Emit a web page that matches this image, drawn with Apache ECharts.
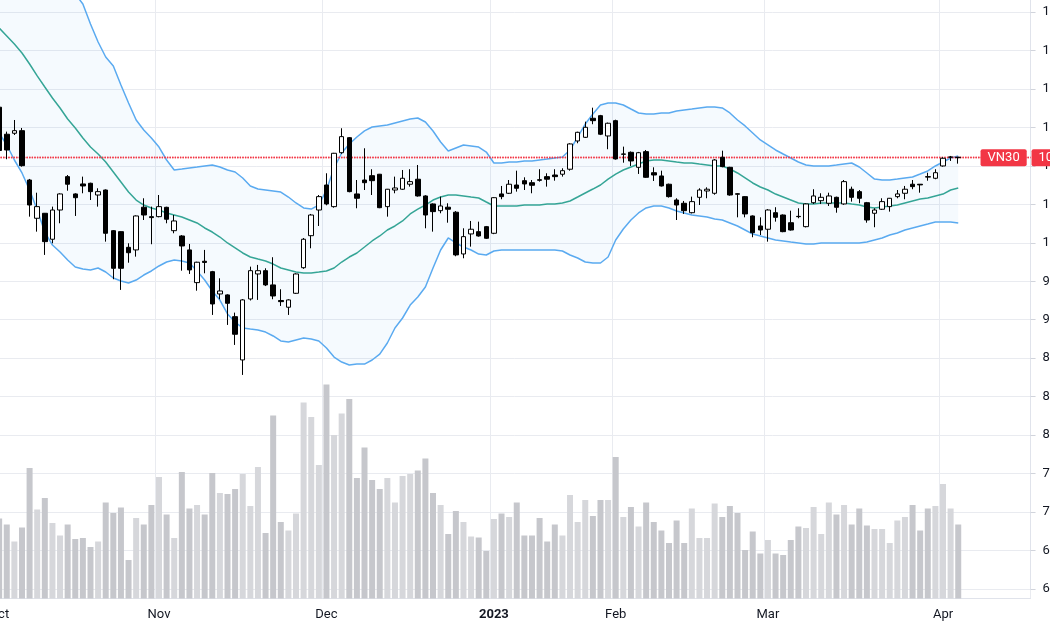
<!DOCTYPE html>
<html>
<head>
<meta charset="utf-8">
<title>VN30</title>
<script src="https://cdn.jsdelivr.net/npm/echarts@6/dist/echarts.min.js"></script>
<style>
  html, body { margin: 0; padding: 0; background: #ffffff; }
  #chart { width: 1050px; height: 630px; }
</style>
</head>
<body>
<div id="chart"></div>
<script>
// trading days per month (Oct 2022 - Apr 2023)
const monthLabels = ['Oct', 'Nov', 'Dec', '2023', 'Feb', 'Mar', 'Apr'];
const monthKeys = ['2022-10', '2022-11', '2022-12', '2023-01', '2023-02', '2023-03', '2023-04'];
const tradingDays = [
    [3, 4, 5, 6, 7, 10, 11, 12, 13, 14, 17, 18, 19, 20, 21, 24, 25, 26, 27, 28, 31],
    [1, 2, 3, 4, 7, 8, 9, 10, 11, 14, 15, 16, 17, 18, 21, 22, 23, 24, 25, 28, 29, 30],
    [1, 2, 5, 6, 7, 8, 9, 12, 13, 14, 15, 16, 19, 20, 21, 22, 23, 26, 27, 28, 29, 30],
    [3, 4, 5, 6, 9, 10, 11, 12, 13, 16, 17, 18, 19, 27, 30, 31],
    [1, 2, 3, 6, 7, 8, 9, 10, 13, 14, 15, 16, 17, 20, 21, 22, 23, 24, 27, 28],
    [1, 2, 3, 6, 7, 8, 9, 10, 13, 14, 15, 16, 17, 20, 21, 22, 23, 24, 27, 28, 29, 30, 31],
    [3, 4, 5]
];
const emptySlots = 9; // blank space right of the last bar

// OHLC
const opens = [
    1141, 1112.9, 1113.9, 1116.6, 1065.3, 1025.5, 1030.7, 1003.7, 1034.1, 1068.8,
    1050.8, 1061.2, 1061.9, 1049.7, 1054.9, 1012.6, 1011.6, 995.3, 992.6, 1037,
    1027.2, 1027.2, 1036.9, 1012.6, 1007.1, 992.6, 958.6, 980.8, 970.0, 946.8,
    945.8, 923.2, 878.2, 941.6, 967.6, 971.0, 956.2, 940.0, 933.0, 947.5,
    974.1, 1007.4, 1034.1, 1060.1, 1037.6, 1093.7, 1109.3, 1050.8, 1065.3, 1069.8,
    1071.3, 1037.6, 1054.9, 1055.7, 1060.9, 1066.1, 1048.7, 1040.4, 1033.4, 1037,
    1031.8, 988.4, 1009.2, 1011.6, 1016.8, 1009.9, 1050.8, 1051.5, 1060.1, 1064.6,
    1062.5, 1065.6, 1068.8, 1070.5, 1071.3, 1076.5, 1105.9, 1109.7, 1129.5, 1132.2,
    1111.1, 1127.0, 1092.0, 1094.1, 1078.5, 1094.8, 1072.9, 1069.5, 1060.9, 1044.5,
    1041.1, 1031.3, 1047.3, 1053.9, 1051.5, 1088.9, 1078.5, 1051, 1048.0, 1027.9,
    1017.5, 1014.1, 1031.3, 1028.9, 1020.9, 1027.5, 1016.8, 1041.7, 1043.8, 1041.1,
    1047.3, 1040.4, 1055.7, 1053.2, 1041.7, 1030.7, 1034.9, 1037.6, 1048.0, 1051.5,
    1060.9, 1060.9, 1068.8, 1067.1, 1079.9, 1088.9, 1089.0
];
const closes = [
    1096, 1096.5, 1116.6, 1080.2, 1039.3, 1037.6, 1001.2, 1034.1, 1050.8, 1060.9,
    1046.9, 1059.1, 1053.2, 1053.2, 1009.9, 973.5, 973.5, 989.7, 1027.9, 1028.9,
    1026.2, 1037.6, 1024.5, 1022.7, 996.7, 971.8, 979.8, 979.6, 936.4, 949.9,
    937.1, 904.9, 940.6, 971.0, 971.0, 956.2, 944.7, 938.8, 940.6, 967.6,
    1003.7, 1028.9, 1048.0, 1040.4, 1093.1, 1110.4, 1053.2, 1046.3, 1062.5, 1064.6,
    1036.5, 1055.7, 1057.0, 1067.1, 1063.6, 1048.7, 1028.9, 1032.4, 1038.3, 1034.9,
    987.4, 1006.4, 1014.1, 1007.1, 1004.7, 1046.9, 1048.0, 1060.9, 1056.7, 1061.2,
    1059.8, 1065.0, 1066.1, 1068.8, 1075.0, 1102.8, 1114.9, 1120.1, 1127.0, 1112.9,
    1124.3, 1087.2, 1092.4, 1085.1, 1093.7, 1068.1, 1070.5, 1059.1, 1048.0, 1039.3,
    1033.4, 1042.8, 1054.9, 1055.7, 1086.1, 1079.2, 1049.7, 1050.5, 1030.0, 1010.5,
    1013.3, 1034.1, 1026.5, 1011.6, 1013.3, 1027.2, 1040.4, 1048.7, 1047.3, 1048.7,
    1036.9, 1063.6, 1047.3, 1046.3, 1023.7, 1034.1, 1042.8, 1046.3, 1050.8, 1055.7,
    1058.4, 1060.2, 1068.3, 1072.9, 1087.9, 1089.3, 1088.5
];
const lows = [
    1090, 1086.9, 1112.1, 1079.2, 1027.2, 1011.6, 987.4, 999.5, 1020.3, 1054.2,
    1027.9, 1051.5, 1044.5, 1037.6, 1001.2, 962.1, 951.0, 979.3, 985.6, 1023.7,
    998.5, 1026.5, 1020.3, 1009.9, 971.0, 967.6, 950.2, 968.3, 925.0, 941.3,
    914.6, 893.8, 862.6, 940, 940.6, 955, 941.3, 934.3, 925.0, 946.8,
    972.9, 994.3, 1017.5, 1039, 1036.5, 1092.5, 1052.5, 1035.9, 1054.9, 1049.7,
    1036, 1027.2, 1051.5, 1055, 1058.4, 1048, 1015.1, 1011.6, 1030.7, 1020.9,
    986, 983.9, 996.0, 1006.4, 1004, 1009, 1045.3, 1050.8, 1053.2, 1054.9,
    1051.5, 1063.6, 1058.4, 1064.6, 1068.8, 1075, 1103.5, 1109, 1123.3, 1112,
    1097.3, 1086.5, 1083.3, 1079.9, 1071.6, 1067.5, 1064.3, 1058.5, 1047, 1023.7,
    1030, 1030.5, 1039.3, 1046.3, 1050, 1078.5, 1049, 1026.5, 1026.5, 1005.8,
    1008.1, 1001.2, 1022.0, 1011, 1012.7, 1025.5, 1016, 1040.4, 1040.4, 1038.3,
    1031.3, 1039.5, 1042.8, 1041.1, 1020.9, 1016.2, 1034.1, 1032.4, 1046.3, 1045.3,
    1055.7, 1052.1, 1064.6, 1066.1, 1079.2, 1085.1, 1082.3
];
const highs = [
    1144, 1115.6, 1127.7, 1119.4, 1066.4, 1052.1, 1031, 1037.6, 1051.5, 1070.5,
    1051.5, 1068.8, 1062.5, 1056.7, 1055.5, 1013.3, 1012, 999.5, 1028.5, 1046.3,
    1037.6, 1049.7, 1037.5, 1028.9, 1008, 998.8, 980.3, 992.6, 970.8, 963.1,
    946.5, 927.4, 941.5, 975.2, 977.0, 973.5, 985.0, 951.7, 941.3, 968.3,
    1005, 1030, 1049.7, 1072.3, 1093.5, 1119.1, 1110, 1065.3, 1098.3, 1076.5,
    1071.6, 1056, 1068.8, 1075.7, 1076.5, 1080.9, 1049.5, 1041, 1048.0, 1041.1,
    1033, 1015.1, 1022.7, 1022, 1017.5, 1047.5, 1059.1, 1065.3, 1075.0, 1068.1,
    1065.3, 1076.5, 1072.3, 1076.5, 1077.5, 1103.5, 1115.5, 1126.0, 1140.5, 1133,
    1125, 1128, 1100, 1095, 1094.5, 1096.5, 1078.5, 1075.0, 1061.5, 1046.3,
    1043.5, 1048.0, 1056.7, 1057.7, 1087, 1095.8, 1079, 1051.5, 1048.5, 1028.5,
    1026.5, 1035, 1037, 1029.5, 1033.4, 1035.9, 1041, 1055.7, 1051.5, 1052.1,
    1048, 1065.3, 1058.4, 1054.9, 1042.5, 1035.9, 1046.3, 1046.6, 1054.9, 1059.1,
    1065.3, 1061.0, 1072.9, 1076.5, 1088.9, 1090.3, 1089.3
];

// volume (millions)
const volumes = [
    160, 148, 114, 142, 261, 178, 201, 151, 126, 148,
    119, 121, 103, 114, 192, 171, 182, 77, 161, 148,
    187, 243, 168, 121, 253, 180, 187, 168, 251, 211,
    209, 219, 249, 185, 263, 131, 366, 153, 136, 170,
    392, 363, 267, 428, 327, 370, 399, 241, 302, 237,
    219, 241, 192, 245, 249, 256, 280, 211, 187, 129,
    175, 153, 124, 122, 95, 159, 170, 163, 192, 126,
    126, 161, 114, 148, 126, 207, 153, 197, 165, 197,
    197, 283, 163, 183, 144, 192, 153, 136, 111, 156,
    111, 180, 121, 121, 190, 163, 185, 171, 97, 134,
    90, 117, 90, 87, 117, 144, 141, 183, 129, 192,
    168, 187, 148, 180, 146, 139, 139, 111, 156, 163,
    187, 136, 180, 185, 229, 180, 148
];

// Bollinger Bands (20, 2) as drawn
const bbUpper = [
    1329.5, 1327.4, 1324.3, 1321.1, 1317.0, 1311.8, 1304.5, 1294.1, 1283.7, 1273.3,
    1258.7, 1248.3, 1227.5, 1208.8, 1193.2, 1183.9, 1164.1, 1145.4, 1127.7, 1117.3,
    1109.0, 1099.6, 1086.1, 1075.7, 1076.7, 1077.8, 1078.8, 1079.9, 1080.9, 1078.8,
    1075.7, 1073.6, 1067.4, 1059.1, 1055.9, 1054.9, 1053.9, 1052.8, 1047.6, 1041.4,
    1036.2, 1035.1, 1039.3, 1054.9, 1077.8, 1093.4, 1102.7, 1110.0, 1116.3, 1120.4,
    1121.5, 1122.5, 1124.6, 1126.7, 1128.7, 1129.8, 1125.6, 1116.3, 1104.8, 1095.5,
    1098.6, 1101.7, 1100.7, 1099.6, 1094.4, 1083.0, 1083.0, 1084.0, 1084.0, 1085.1,
    1085.1, 1086.1, 1087.1, 1088.2, 1089.2, 1096.5, 1110.0, 1123.5, 1133.9, 1143.3,
    1145.4, 1145.4, 1143.3, 1139.1, 1135.0, 1133.9, 1133.9, 1135.0, 1135.0, 1137.1,
    1138.1, 1139.1, 1140.2, 1141.2, 1141.2, 1140.2, 1135.0, 1127.7, 1121.5, 1114.2,
    1106.9, 1101.7, 1096.5, 1092.3, 1088.2, 1084.0, 1080.9, 1079.9, 1079.9, 1079.9,
    1080.9, 1082.0, 1083.0, 1078.8, 1072.6, 1066.3, 1065.3, 1065.3, 1066.3, 1067.4,
    1068.4, 1071.5, 1074.7, 1079.9, 1084.0, 1088.2, 1090.3
];
const bbBasis = [
    1223.4, 1215.1, 1206.7, 1197.4, 1185.9, 1173.5, 1162.0, 1150.6, 1140.2, 1128.7,
    1119.4, 1109.0, 1099.6, 1092.3, 1084.0, 1073.6, 1063.2, 1052.8, 1044.5, 1039.3,
    1036.2, 1034.1, 1031.0, 1028.9, 1026.8, 1023.7, 1020.6, 1015.4, 1011.2, 1006.0,
    999.8, 994.6, 989.4, 985.2, 983.1, 981.1, 977.9, 973.8, 971.7, 969.6,
    968.6, 968.6, 969.6, 970.7, 973.8, 980.0, 985.2, 989.4, 995.6, 1001.9,
    1007.1, 1013.3, 1017.5, 1022.7, 1030.0, 1035.1, 1039.3, 1044.5, 1047.6, 1049.7,
    1049.7, 1048.7, 1047.6, 1046.6, 1042.4, 1038.3, 1038.3, 1038.3, 1038.3, 1039.3,
    1039.3, 1039.3, 1040.3, 1040.3, 1041.4, 1043.5, 1047.6, 1051.8, 1055.9, 1060.1,
    1066.3, 1071.5, 1075.7, 1078.8, 1081.9, 1085.1, 1086.1, 1086.1, 1085.1, 1084.0,
    1083.0, 1083.0, 1081.9, 1080.9, 1079.9, 1079.9, 1076.7, 1072.6, 1067.4, 1062.2,
    1058.0, 1054.9, 1050.7, 1047.6, 1044.5, 1041.4, 1040.3, 1040.3, 1041.4, 1041.4,
    1041.4, 1041.4, 1040.3, 1039.3, 1037.2, 1036.2, 1037.2, 1038.3, 1039.3, 1041.4,
    1043.5, 1045.5, 1046.6, 1048.7, 1050.7, 1054.9, 1057.0
];
const bbLower = [
    1114.2, 1101.7, 1086.1, 1072.6, 1054.9, 1034.1, 1011.2, 997.7, 990.4, 982.1,
    974.8, 972.7, 971.7, 973.8, 969.6, 963.4, 960.3, 958.2, 961.3, 966.5,
    970.7, 975.9, 980.0, 982.1, 981.1, 979.0, 970.7, 961.3, 949.9, 940.5,
    926.0, 917.6, 911.4, 910.3, 909.3, 907.2, 903.1, 897.9, 896.8, 898.9,
    901.0, 899.9, 897.9, 890.6, 881.2, 876.0, 872.9, 873.9, 873.9, 878.1,
    884.3, 895.8, 911.4, 921.8, 935.3, 943.6, 954.0, 973.8, 992.5, 1005.0,
    999.8, 995.6, 992.5, 988.3, 987.3, 991.5, 992.5, 992.5, 992.5, 992.5,
    992.5, 992.5, 992.5, 992.5, 991.5, 987.3, 984.2, 980.0, 979.0, 979.0,
    985.2, 1002.9, 1014.3, 1023.7, 1031.0, 1036.2, 1038.3, 1038.3, 1036.2, 1033.1,
    1031.0, 1028.9, 1027.9, 1026.8, 1024.7, 1023.7, 1020.6, 1017.5, 1013.3, 1009.1,
    1007.1, 1005.0, 1002.9, 1001.9, 1000.8, 999.8, 998.7, 998.7, 999.8, 999.8,
    999.8, 999.8, 999.8, 999.8, 1000.8, 1002.9, 1005.0, 1008.1, 1010.2, 1013.3,
    1015.4, 1017.5, 1019.5, 1021.6, 1021.6, 1021.6, 1020.6
];

const symbolName = 'VN30';

// build categories and month-start flags
var dates = [];
var monthStart = {};
monthKeys.forEach(function(key, m) {
    tradingDays[m].forEach(function(d, k) {
        if (k === 0) monthStart[dates.length] = monthLabels[m];
        dates.push(key + '-' + (d < 10 ? '0' + d : d));
    });
});
for (var e = 0; e < emptySlots; e++) dates.push('');

var candleData = opens.map(function(o, i) {
    return [o, closes[i], lows[i], highs[i]];
});
var volumeData = volumes.map(function(v, i) {
    var up = closes[i] >= opens[i];
    return { value: v, itemStyle: { color: up ? '#d6d7db' : '#c6c7cc' } };
});
var bandWidth = bbUpper.map(function(u, i) { return +(u - bbLower[i]).toFixed(1); });
var lastClose = closes[closes.length - 1];

var gridLeft = -4.66;
var gridWidth = 1035.2;

var priceRed = '#f23645';
var priceLabel = {
    show: true, position: 'end',
    backgroundColor: priceRed, color: '#ffffff',
    fontSize: 13, padding: [2, 7], borderRadius: 2
};

var chart = echarts.init(document.getElementById('chart'), null, { renderer: 'canvas' });

var option = {
    animation: false,
    backgroundColor: '#ffffff',
    textStyle: { fontFamily: 'Roboto, "Noto Sans", sans-serif' },
    grid: [
        // price pane: 1280 .. 640
        { left: gridLeft, width: gridWidth, top: -26.47, height: 615.47, outerBoundsMode: 'none', containLabel: false },
        // volume pane + date axis
        { left: gridLeft, width: gridWidth, top: 0, height: 598.5, outerBoundsMode: 'none', containLabel: false }
    ],
    xAxis: [
        {
            type: 'category', gridIndex: 0, data: dates, boundaryGap: true, show: false
        },
        {
            type: 'category', gridIndex: 1, data: dates, boundaryGap: true,
            axisLine: { show: true, lineStyle: { color: '#e0e3eb' } },
            axisTick: { show: false },
            axisLabel: {
                interval: function(index) { return monthStart[index] !== undefined; },
                formatter: function(value, index) {
                    var lab = monthStart[index];
                    if (lab === '2023') return '{year|2023}';
                    return lab || '';
                },
                color: '#131722',
                fontSize: 13,
                margin: 10,
                hideOverlap: false,
                rich: { year: { fontSize: 13, fontWeight: 'bold', color: '#131722' } }
            },
            splitLine: {
                show: true,
                interval: function(index) { return monthStart[index] !== undefined; },
                lineStyle: { color: '#e9ebf0', width: 1 }
            }
        }
    ],
    yAxis: [
        {
            type: 'value', gridIndex: 0, position: 'right',
            min: 640, max: 1280, interval: 40,
            axisLine: { show: true, lineStyle: { color: '#e0e3eb' } },
            axisTick: { show: true, length: 5, lineStyle: { color: '#d1d4dc' } },
            axisLabel: {
                color: '#131722', fontSize: 13, margin: 12,
                showMaxLabel: false,
                formatter: function(v) { return v.toFixed(2); }
            },
            splitLine: { show: true, lineStyle: { color: '#e9ebf0', width: 1 } }
        },
        {
            type: 'value', gridIndex: 1, min: 0, max: 1197, show: false,
            splitLine: { show: false }
        }
    ],
    series: [
        {
            name: 'Volume', type: 'bar', xAxisIndex: 1, yAxisIndex: 1,
            data: volumeData, barWidth: 6, z: 1, silent: true
        },
        {
            name: 'BB base', type: 'line', xAxisIndex: 0, yAxisIndex: 0,
            data: bbLower, stack: 'bb', symbol: 'none', silent: true,
            lineStyle: { opacity: 0 }, z: 2
        },
        {
            name: 'BB fill', type: 'line', xAxisIndex: 0, yAxisIndex: 0,
            data: bandWidth, stack: 'bb', symbol: 'none', silent: true,
            lineStyle: { opacity: 0 },
            areaStyle: { color: 'rgba(33, 150, 243, 0.06)' }, z: 2
        },
        {
            name: 'Upper', type: 'line', xAxisIndex: 0, yAxisIndex: 0,
            data: bbUpper, symbol: 'none', silent: true,
            lineStyle: { color: '#5aaaf0', width: 1.5 }, z: 3
        },
        {
            name: 'Lower', type: 'line', xAxisIndex: 0, yAxisIndex: 0,
            data: bbLower, symbol: 'none', silent: true,
            lineStyle: { color: '#5aaaf0', width: 1.5 }, z: 3
        },
        {
            name: 'Basis', type: 'line', xAxisIndex: 0, yAxisIndex: 0,
            data: bbBasis, symbol: 'none', silent: true,
            lineStyle: { color: '#35a596', width: 1.5 }, z: 3
        },
        {
            name: symbolName, type: 'candlestick', xAxisIndex: 0, yAxisIndex: 0,
            data: candleData, barWidth: 5, z: 5,
            itemStyle: {
                color: '#ffffff', color0: '#000000',
                borderColor: '#000000', borderColor0: '#000000',
                borderWidth: 1
            }
        },
        {
            // last price line with its two tags
            name: 'Last price', type: 'line', xAxisIndex: 0, yAxisIndex: 0,
            data: [], symbol: 'none', silent: true, z: 10,
            color: priceRed,
            itemStyle: { color: priceRed },
            lineStyle: { color: priceRed },
            markLine: {
                silent: true,
                symbol: ['none', 'none'],
                animation: false,
                itemStyle: { color: priceRed },
                lineStyle: { color: priceRed, type: 'dotted', width: 1.3, opacity: 1 },
                data: [
                    {
                        yAxis: lastClose,
                        label: Object.assign({}, priceLabel, { distance: -50, formatter: symbolName })
                    },
                    {
                        yAxis: lastClose,
                        label: Object.assign({}, priceLabel, { distance: 1, formatter: lastClose.toFixed(2) })
                    }
                ]
            }
        }
    ]
};

chart.setOption(option);
window.addEventListener('resize', function() {
    chart.resize();
});
</script>
</body>
</html>
